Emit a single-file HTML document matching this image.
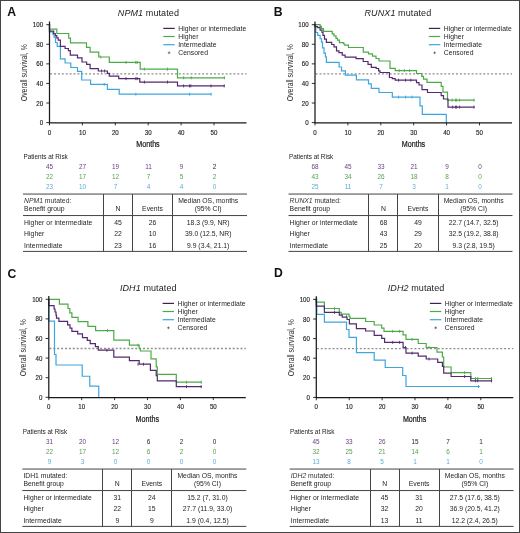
<!DOCTYPE html><html><head><meta charset="utf-8"><style>html,body{margin:0;padding:0;background:#fff;overflow:hidden}svg{display:block;will-change:transform}text{font-family:"Liberation Sans",sans-serif}</style></head><body>
<svg width="520" height="533" viewBox="0 0 520 533">
<rect x="0" y="0" width="520" height="533" fill="#fff"/>
<text x="7.20" y="15.80" font-size="12.2" text-anchor="start" fill="#111" font-weight="bold">A</text>
<text x="117.80" y="16.20" font-size="9" letter-spacing="0.1" fill="#222"><tspan font-style="italic">NPM1</tspan> mutated</text>
<line x1="163.30" y1="28.40" x2="174.70" y2="28.40" stroke="#3e2250" stroke-width="1.2"/>
<line x1="163.30" y1="36.50" x2="174.70" y2="36.50" stroke="#4daa47" stroke-width="1.2"/>
<line x1="163.30" y1="44.70" x2="174.70" y2="44.70" stroke="#3ea6dd" stroke-width="1.2"/>
<path d="M167.80 52.80H170.40M169.10 51.50V54.10" stroke="#444" stroke-width="0.7"/>
<text x="178.20" y="30.70" font-size="6.8" text-anchor="start" fill="#252525" letter-spacing="0.04">Higher or intermediate</text>
<text x="178.20" y="39.30" font-size="6.8" text-anchor="start" fill="#252525" letter-spacing="0.04">Higher</text>
<text x="178.20" y="47.10" font-size="6.8" text-anchor="start" fill="#252525" letter-spacing="0.04">Intermediate</text>
<text x="178.20" y="55.30" font-size="6.8" text-anchor="start" fill="#252525" letter-spacing="0.04">Censored</text>
<line x1="50.10" y1="73.85" x2="246.50" y2="73.85" stroke="#8e8e8e" stroke-width="1.3" stroke-dasharray="2 1.9"/>
<path d="M49.5 24.7V32H52.9V34.5H54V37.2H55.5V42.5H57.2V46.4H60.4V58.9H65.1V63H70.8V67.5H77.5V71.3H81.7V80H90.6V84.4H107.4V89.4H119.2V94.2H211" fill="none" stroke="#3ea6dd" stroke-width="1.2" stroke-linejoin="miter" stroke-linecap="square"/>
<path d="M104.20 82.90V85.90M135.80 92.70V95.70M189.60 92.70V95.70M211.00 92.70V95.70" stroke="#3ea6dd" stroke-width="0.9" fill="none"/>
<path d="M49.5 24.7V29.1H56.8V33.5H68.7V38.2H70.5V42.8H86.5V47.4H90.1V52.2H98.75V57H109.3V62.4H140.2V69.1H177.5V77.8H224.4" fill="none" stroke="#4daa47" stroke-width="1.2" stroke-linejoin="miter" stroke-linecap="square"/>
<path d="M100.70 55.50V58.50M126.00 60.90V63.90M135.80 60.90V63.90M137.20 60.90V63.90M144.40 67.60V70.60M167.50 67.60V70.60M183.60 76.30V79.30M191.30 76.30V79.30M224.40 76.30V79.30" stroke="#4daa47" stroke-width="0.9" fill="none"/>
<path d="M49.5 24.7V31.2H53.7V33.5H55.3V35.6H56.8V37.9H58.2V40.1H60.4V46.4H65.1V48.5H68.4V50.6H70.3V55.1H77.5V57.8H82V62H86.6V64.3H90.1V68.6H98.3V71H107.4V73.4H109.3V76.2H118.7V78.65H139.8V82.1H177.5V85.9H224.2" fill="none" stroke="#532a70" stroke-width="1.2" stroke-linejoin="miter" stroke-linecap="square"/>
<path d="M101.50 69.50V72.50M104.60 69.50V72.50M126.00 77.15V80.15M135.80 77.15V80.15M137.20 77.15V80.15M144.40 80.60V83.60M167.50 80.60V83.60M183.60 84.40V87.40M189.60 84.40V87.40M190.80 84.40V87.40M211.00 84.40V87.40M224.20 84.40V87.40" stroke="#532a70" stroke-width="0.9" fill="none"/>
<path d="M49.50 21.50V122.80H246.50" fill="none" stroke="#1a1a1a" stroke-width="1.25"/>
<path d="M46.30 122.60H49.50M46.30 103.02H49.50M46.30 83.44H49.50M46.30 63.86H49.50M46.30 44.28H49.50M46.30 24.70H49.50M49.50 122.60V125.40M82.40 122.60V125.40M115.30 122.60V125.40M148.20 122.60V125.40M181.10 122.60V125.40M214.00 122.60V125.40" stroke="#1a1a1a" stroke-width="0.9"/>
<text transform="translate(43.10 125.10) scale(0.88 1)" font-size="7" text-anchor="end" fill="#1e1e1e" stroke="#1e1e1e" stroke-width="0.15">0</text>
<text transform="translate(43.10 105.52) scale(0.88 1)" font-size="7" text-anchor="end" fill="#1e1e1e" stroke="#1e1e1e" stroke-width="0.15">20</text>
<text transform="translate(43.10 85.94) scale(0.88 1)" font-size="7" text-anchor="end" fill="#1e1e1e" stroke="#1e1e1e" stroke-width="0.15">40</text>
<text transform="translate(43.10 66.36) scale(0.88 1)" font-size="7" text-anchor="end" fill="#1e1e1e" stroke="#1e1e1e" stroke-width="0.15">60</text>
<text transform="translate(43.10 46.78) scale(0.88 1)" font-size="7" text-anchor="end" fill="#1e1e1e" stroke="#1e1e1e" stroke-width="0.15">80</text>
<text transform="translate(43.10 27.20) scale(0.88 1)" font-size="7" text-anchor="end" fill="#1e1e1e" stroke="#1e1e1e" stroke-width="0.15">100</text>
<text transform="translate(49.50 134.60) scale(0.88 1)" font-size="7" text-anchor="middle" fill="#1e1e1e" stroke="#1e1e1e" stroke-width="0.15">0</text>
<text transform="translate(82.40 134.60) scale(0.88 1)" font-size="7" text-anchor="middle" fill="#1e1e1e" stroke="#1e1e1e" stroke-width="0.15">10</text>
<text transform="translate(115.30 134.60) scale(0.88 1)" font-size="7" text-anchor="middle" fill="#1e1e1e" stroke="#1e1e1e" stroke-width="0.15">20</text>
<text transform="translate(148.20 134.60) scale(0.88 1)" font-size="7" text-anchor="middle" fill="#1e1e1e" stroke="#1e1e1e" stroke-width="0.15">30</text>
<text transform="translate(181.10 134.60) scale(0.88 1)" font-size="7" text-anchor="middle" fill="#1e1e1e" stroke="#1e1e1e" stroke-width="0.15">40</text>
<text transform="translate(214.00 134.60) scale(0.88 1)" font-size="7" text-anchor="middle" fill="#1e1e1e" stroke="#1e1e1e" stroke-width="0.15">50</text>
<text transform="translate(148.00 146.90) scale(0.86 1)" font-size="8.3" text-anchor="middle" fill="#1a1a1a" stroke="#1a1a1a" stroke-width="0.22">Months</text>
<text transform="translate(27.00 72.70) rotate(-90) scale(0.765 1)" font-size="9" text-anchor="middle" fill="#2a2a2a">Overall survival, %</text>
<text x="23.40" y="158.70" font-size="6.4" text-anchor="start" fill="#222" >Patients at Risk</text>
<text x="49.50" y="168.80" font-size="6.4" text-anchor="middle" fill="#663d86" >45</text>
<text x="82.50" y="168.80" font-size="6.4" text-anchor="middle" fill="#663d86" >27</text>
<text x="115.50" y="168.80" font-size="6.4" text-anchor="middle" fill="#663d86" >19</text>
<text x="148.50" y="168.80" font-size="6.4" text-anchor="middle" fill="#663d86" >11</text>
<text x="181.50" y="168.80" font-size="6.4" text-anchor="middle" fill="#663d86" >9</text>
<text x="214.50" y="168.80" font-size="6.4" text-anchor="middle" fill="#252525" >2</text>
<text x="49.50" y="178.90" font-size="6.4" text-anchor="middle" fill="#5aa052" >22</text>
<text x="82.50" y="178.90" font-size="6.4" text-anchor="middle" fill="#5aa052" >17</text>
<text x="115.50" y="178.90" font-size="6.4" text-anchor="middle" fill="#5aa052" >12</text>
<text x="148.50" y="178.90" font-size="6.4" text-anchor="middle" fill="#5aa052" >7</text>
<text x="181.50" y="178.90" font-size="6.4" text-anchor="middle" fill="#5aa052" >5</text>
<text x="214.50" y="178.90" font-size="6.4" text-anchor="middle" fill="#5aa052" >2</text>
<text x="49.50" y="189.00" font-size="6.4" text-anchor="middle" fill="#5aaedc" >23</text>
<text x="82.50" y="189.00" font-size="6.4" text-anchor="middle" fill="#5aaedc" >10</text>
<text x="115.50" y="189.00" font-size="6.4" text-anchor="middle" fill="#5aaedc" >7</text>
<text x="148.50" y="189.00" font-size="6.4" text-anchor="middle" fill="#5aaedc" >4</text>
<text x="181.50" y="189.00" font-size="6.4" text-anchor="middle" fill="#5aaedc" >4</text>
<text x="214.50" y="189.00" font-size="6.4" text-anchor="middle" fill="#5aaedc" >0</text>
<path d="M23.00 194.05H247.00M23.00 215.55H247.00M23.00 251.40H247.00" stroke="#444" stroke-width="1"/>
<path d="M103.50 194.05V251.40M132.50 194.05V251.40M172.50 194.05V251.40" stroke="#444" stroke-width="1"/>
<text x="24.10" y="203.30" font-size="6.8" fill="#333"><tspan font-style="italic">NPM1</tspan> mutated:</text>
<text x="24.10" y="211.00" font-size="6.8" text-anchor="start" fill="#252525" >Benefit group</text>
<text x="118.00" y="211.00" font-size="6.8" text-anchor="middle" fill="#252525" >N</text>
<text x="152.50" y="211.00" font-size="6.8" text-anchor="middle" fill="#252525" >Events</text>
<text x="208.20" y="203.00" font-size="6.8" text-anchor="middle" fill="#252525" >Median OS, months</text>
<text x="208.20" y="211.40" font-size="6.8" text-anchor="middle" fill="#252525" >(95% CI)</text>
<text x="24.10" y="224.50" font-size="6.8" text-anchor="start" fill="#252525" letter-spacing="0.05">Higher or intermediate</text>
<text x="118.00" y="224.50" font-size="6.8" text-anchor="middle" fill="#252525" >45</text>
<text x="152.50" y="224.50" font-size="6.8" text-anchor="middle" fill="#252525" >26</text>
<text x="208.20" y="224.50" font-size="6.8" text-anchor="middle" fill="#252525" >18.3 (9.9, NR)</text>
<text x="24.10" y="236.10" font-size="6.8" text-anchor="start" fill="#252525" letter-spacing="0.05">Higher</text>
<text x="118.00" y="236.10" font-size="6.8" text-anchor="middle" fill="#252525" >22</text>
<text x="152.50" y="236.10" font-size="6.8" text-anchor="middle" fill="#252525" >10</text>
<text x="208.20" y="236.10" font-size="6.8" text-anchor="middle" fill="#252525" >39.0 (12.5, NR)</text>
<text x="24.10" y="247.60" font-size="6.8" text-anchor="start" fill="#252525" letter-spacing="0.05">Intermediate</text>
<text x="118.00" y="247.60" font-size="6.8" text-anchor="middle" fill="#252525" >23</text>
<text x="152.50" y="247.60" font-size="6.8" text-anchor="middle" fill="#252525" >16</text>
<text x="208.20" y="247.60" font-size="6.8" text-anchor="middle" fill="#252525" >9.9 (3.4, 21.1)</text>
<text x="273.80" y="15.50" font-size="12.2" text-anchor="start" fill="#111" font-weight="bold">B</text>
<text x="364.50" y="16.20" font-size="9" letter-spacing="0.1" fill="#222"><tspan font-style="italic">RUNX1</tspan> mutated</text>
<line x1="428.80" y1="28.40" x2="440.20" y2="28.40" stroke="#3e2250" stroke-width="1.2"/>
<line x1="428.80" y1="36.50" x2="440.20" y2="36.50" stroke="#4daa47" stroke-width="1.2"/>
<line x1="428.80" y1="44.70" x2="440.20" y2="44.70" stroke="#3ea6dd" stroke-width="1.2"/>
<path d="M433.30 52.80H435.90M434.60 51.50V54.10" stroke="#444" stroke-width="0.7"/>
<text x="443.70" y="30.70" font-size="6.8" text-anchor="start" fill="#252525" letter-spacing="0.04">Higher or intermediate</text>
<text x="443.70" y="39.30" font-size="6.8" text-anchor="start" fill="#252525" letter-spacing="0.04">Higher</text>
<text x="443.70" y="47.10" font-size="6.8" text-anchor="start" fill="#252525" letter-spacing="0.04">Intermediate</text>
<text x="443.70" y="55.30" font-size="6.8" text-anchor="start" fill="#252525" letter-spacing="0.04">Censored</text>
<line x1="315.60" y1="73.85" x2="512.00" y2="73.85" stroke="#8e8e8e" stroke-width="1.3" stroke-dasharray="2 1.9"/>
<path d="M315 24.7H315.8V32.5H317.7V35.4H320.1V38.75H321.5V42.1H322.5V47.9H324V53.2H325.4V57H326.4V62.3H339.1V67H341.5V70.9H345.4V75.2H356.4V79.8H368.5V83.8H371.3V88.3H379V92.5H392.3V97.1H420V105.8H422.3V114.4H446.3V122.6" fill="none" stroke="#3ea6dd" stroke-width="1.2" stroke-linejoin="miter" stroke-linecap="square"/>
<path d="M398.60 95.60V98.60M405.60 95.60V98.60M411.90 95.60V98.60" stroke="#3ea6dd" stroke-width="0.9" fill="none"/>
<path d="M315 24.7H320.1V26.3H321.5V28.7H323.5V31.3H332.2V33.9H334V35.9H336V38.3H337.5V40.2H339.4V42.6H343.7V44H344.7V45.2H348.5V47.5H363.3V52.1H368.5V53.8H372.5V56.2H376V58.5H379V61H390V68.3H395.2V70.6H416.5V73.5H421.7V76.3H423.5V79.2H427V82.3H441.2V86.3H443V92.1H447.5V100.2H474" fill="none" stroke="#4daa47" stroke-width="1.2" stroke-linejoin="miter" stroke-linecap="square"/>
<path d="M399.20 69.10V72.10M404.40 69.10V72.10M409.60 69.10V72.10M452.10 98.70V101.70M455.60 98.70V101.70M456.70 98.70V101.70M459.60 98.70V101.70M474.00 98.70V101.70" stroke="#4daa47" stroke-width="0.9" fill="none"/>
<path d="M315 24.7V26.7H317.7V27.7H320.1V30.1H322V32.5H323V35.4H324.5V39.2H326.4V42.3H331.7V44.5H334V46.9H336.5V50.8H338.9V52.7H342.25V55.1H345.1V57.1H356.1V58.6H363.2V61.5H368V64.4H371.3V67.3H376.2V68.5H378.6V70.9H380V72.5H389.4V77.5H392.3V78.65H395.2V80.2H416.5V82.7H419V85H422V89.6H427.5V92.5H441.2V95.6H443.5V99H448V107.1H474" fill="none" stroke="#532a70" stroke-width="1.2" stroke-linejoin="miter" stroke-linecap="square"/>
<path d="M398.60 78.70V81.70M405.60 78.70V81.70M410.80 78.70V81.70M452.70 105.60V108.60M455.60 105.60V108.60M456.70 105.60V108.60M459.60 105.60V108.60M474.00 105.60V108.60" stroke="#532a70" stroke-width="0.9" fill="none"/>
<path d="M315.00 21.50V122.80H512.00" fill="none" stroke="#1a1a1a" stroke-width="1.25"/>
<path d="M311.80 122.60H315.00M311.80 103.02H315.00M311.80 83.44H315.00M311.80 63.86H315.00M311.80 44.28H315.00M311.80 24.70H315.00M315.00 122.60V125.40M347.90 122.60V125.40M380.80 122.60V125.40M413.70 122.60V125.40M446.60 122.60V125.40M479.50 122.60V125.40" stroke="#1a1a1a" stroke-width="0.9"/>
<text transform="translate(308.60 125.10) scale(0.88 1)" font-size="7" text-anchor="end" fill="#1e1e1e" stroke="#1e1e1e" stroke-width="0.15">0</text>
<text transform="translate(308.60 105.52) scale(0.88 1)" font-size="7" text-anchor="end" fill="#1e1e1e" stroke="#1e1e1e" stroke-width="0.15">20</text>
<text transform="translate(308.60 85.94) scale(0.88 1)" font-size="7" text-anchor="end" fill="#1e1e1e" stroke="#1e1e1e" stroke-width="0.15">40</text>
<text transform="translate(308.60 66.36) scale(0.88 1)" font-size="7" text-anchor="end" fill="#1e1e1e" stroke="#1e1e1e" stroke-width="0.15">60</text>
<text transform="translate(308.60 46.78) scale(0.88 1)" font-size="7" text-anchor="end" fill="#1e1e1e" stroke="#1e1e1e" stroke-width="0.15">80</text>
<text transform="translate(308.60 27.20) scale(0.88 1)" font-size="7" text-anchor="end" fill="#1e1e1e" stroke="#1e1e1e" stroke-width="0.15">100</text>
<text transform="translate(315.00 134.60) scale(0.88 1)" font-size="7" text-anchor="middle" fill="#1e1e1e" stroke="#1e1e1e" stroke-width="0.15">0</text>
<text transform="translate(347.90 134.60) scale(0.88 1)" font-size="7" text-anchor="middle" fill="#1e1e1e" stroke="#1e1e1e" stroke-width="0.15">10</text>
<text transform="translate(380.80 134.60) scale(0.88 1)" font-size="7" text-anchor="middle" fill="#1e1e1e" stroke="#1e1e1e" stroke-width="0.15">20</text>
<text transform="translate(413.70 134.60) scale(0.88 1)" font-size="7" text-anchor="middle" fill="#1e1e1e" stroke="#1e1e1e" stroke-width="0.15">30</text>
<text transform="translate(446.60 134.60) scale(0.88 1)" font-size="7" text-anchor="middle" fill="#1e1e1e" stroke="#1e1e1e" stroke-width="0.15">40</text>
<text transform="translate(479.50 134.60) scale(0.88 1)" font-size="7" text-anchor="middle" fill="#1e1e1e" stroke="#1e1e1e" stroke-width="0.15">50</text>
<text transform="translate(413.50 146.90) scale(0.86 1)" font-size="8.3" text-anchor="middle" fill="#1a1a1a" stroke="#1a1a1a" stroke-width="0.22">Months</text>
<text transform="translate(292.50 72.70) rotate(-90) scale(0.765 1)" font-size="9" text-anchor="middle" fill="#2a2a2a">Overall survival, %</text>
<text x="288.90" y="158.70" font-size="6.4" text-anchor="start" fill="#222" >Patients at Risk</text>
<text x="315.00" y="168.80" font-size="6.4" text-anchor="middle" fill="#663d86" >68</text>
<text x="348.00" y="168.80" font-size="6.4" text-anchor="middle" fill="#663d86" >45</text>
<text x="381.00" y="168.80" font-size="6.4" text-anchor="middle" fill="#663d86" >33</text>
<text x="414.00" y="168.80" font-size="6.4" text-anchor="middle" fill="#663d86" >21</text>
<text x="447.00" y="168.80" font-size="6.4" text-anchor="middle" fill="#663d86" >9</text>
<text x="480.00" y="168.80" font-size="6.4" text-anchor="middle" fill="#663d86" >0</text>
<text x="315.00" y="178.90" font-size="6.4" text-anchor="middle" fill="#5aa052" >43</text>
<text x="348.00" y="178.90" font-size="6.4" text-anchor="middle" fill="#5aa052" >34</text>
<text x="381.00" y="178.90" font-size="6.4" text-anchor="middle" fill="#5aa052" >26</text>
<text x="414.00" y="178.90" font-size="6.4" text-anchor="middle" fill="#5aa052" >18</text>
<text x="447.00" y="178.90" font-size="6.4" text-anchor="middle" fill="#5aa052" >8</text>
<text x="480.00" y="178.90" font-size="6.4" text-anchor="middle" fill="#5aa052" >0</text>
<text x="315.00" y="189.00" font-size="6.4" text-anchor="middle" fill="#5aaedc" >25</text>
<text x="348.00" y="189.00" font-size="6.4" text-anchor="middle" fill="#5aaedc" >11</text>
<text x="381.00" y="189.00" font-size="6.4" text-anchor="middle" fill="#5aaedc" >7</text>
<text x="414.00" y="189.00" font-size="6.4" text-anchor="middle" fill="#5aaedc" >3</text>
<text x="447.00" y="189.00" font-size="6.4" text-anchor="middle" fill="#5aaedc" >1</text>
<text x="480.00" y="189.00" font-size="6.4" text-anchor="middle" fill="#5aaedc" >0</text>
<path d="M288.50 194.05H512.50M288.50 215.55H512.50M288.50 251.40H512.50" stroke="#444" stroke-width="1"/>
<path d="M368.50 194.05V251.40M397.50 194.05V251.40M438.50 194.05V251.40" stroke="#444" stroke-width="1"/>
<text x="289.60" y="203.30" font-size="6.8" fill="#333"><tspan font-style="italic">RUNX1</tspan> mutated:</text>
<text x="289.60" y="211.00" font-size="6.8" text-anchor="start" fill="#252525" >Benefit group</text>
<text x="383.50" y="211.00" font-size="6.8" text-anchor="middle" fill="#252525" >N</text>
<text x="418.00" y="211.00" font-size="6.8" text-anchor="middle" fill="#252525" >Events</text>
<text x="473.70" y="203.00" font-size="6.8" text-anchor="middle" fill="#252525" >Median OS, months</text>
<text x="473.70" y="211.40" font-size="6.8" text-anchor="middle" fill="#252525" >(95% CI)</text>
<text x="289.60" y="224.50" font-size="6.8" text-anchor="start" fill="#252525" letter-spacing="0.05">Higher or intermediate</text>
<text x="383.50" y="224.50" font-size="6.8" text-anchor="middle" fill="#252525" >68</text>
<text x="418.00" y="224.50" font-size="6.8" text-anchor="middle" fill="#252525" >49</text>
<text x="473.70" y="224.50" font-size="6.8" text-anchor="middle" fill="#252525" >22.7 (14.7, 32.5)</text>
<text x="289.60" y="236.10" font-size="6.8" text-anchor="start" fill="#252525" letter-spacing="0.05">Higher</text>
<text x="383.50" y="236.10" font-size="6.8" text-anchor="middle" fill="#252525" >43</text>
<text x="418.00" y="236.10" font-size="6.8" text-anchor="middle" fill="#252525" >29</text>
<text x="473.70" y="236.10" font-size="6.8" text-anchor="middle" fill="#252525" >32.5 (19.2, 38.8)</text>
<text x="289.60" y="247.60" font-size="6.8" text-anchor="start" fill="#252525" letter-spacing="0.05">Intermediate</text>
<text x="383.50" y="247.60" font-size="6.8" text-anchor="middle" fill="#252525" >25</text>
<text x="418.00" y="247.60" font-size="6.8" text-anchor="middle" fill="#252525" >20</text>
<text x="473.70" y="247.60" font-size="6.8" text-anchor="middle" fill="#252525" >9.3 (2.8, 19.5)</text>
<text x="7.40" y="277.50" font-size="12.2" text-anchor="start" fill="#111" font-weight="bold">C</text>
<text x="119.90" y="291.20" font-size="9" letter-spacing="0.1" fill="#222"><tspan font-style="italic">IDH1</tspan> mutated</text>
<line x1="162.60" y1="303.40" x2="174.00" y2="303.40" stroke="#3e2250" stroke-width="1.2"/>
<line x1="162.60" y1="311.50" x2="174.00" y2="311.50" stroke="#4daa47" stroke-width="1.2"/>
<line x1="162.60" y1="319.70" x2="174.00" y2="319.70" stroke="#3ea6dd" stroke-width="1.2"/>
<path d="M167.10 327.80H169.70M168.40 326.50V329.10" stroke="#444" stroke-width="0.7"/>
<text x="177.50" y="305.70" font-size="6.8" text-anchor="start" fill="#252525" letter-spacing="0.04">Higher or intermediate</text>
<text x="177.50" y="314.30" font-size="6.8" text-anchor="start" fill="#252525" letter-spacing="0.04">Higher</text>
<text x="177.50" y="322.10" font-size="6.8" text-anchor="start" fill="#252525" letter-spacing="0.04">Intermediate</text>
<text x="177.50" y="330.30" font-size="6.8" text-anchor="start" fill="#252525" letter-spacing="0.04">Censored</text>
<line x1="49.40" y1="348.50" x2="245.80" y2="348.50" stroke="#8e8e8e" stroke-width="1.3" stroke-dasharray="2 1.9"/>
<path d="M48.8 299.3V321.2H54.5V354.5H56V365H82.25V376.25H89.75V386.2H98.75V397.3" fill="none" stroke="#3ea6dd" stroke-width="1.2" stroke-linejoin="miter" stroke-linecap="square"/>
<path d="M48.8 299.3H59.4V304.1H68V308.5H69.8V312.8H71.9V317.3H78.1V321.6H87.9V326.3H95.6V330.6H113.8V340.2H129.4V345.2H139.2V348.5H140.4V351H151V358.8H156.2V366.9H157.3V374.4H176.3V382.2H201.2" fill="none" stroke="#4daa47" stroke-width="1.2" stroke-linejoin="miter" stroke-linecap="square"/>
<path d="M107.50 329.10V332.10M138.00 343.70V346.70M186.50 380.70V383.70M201.20 380.70V383.70" stroke="#4daa47" stroke-width="0.9" fill="none"/>
<path d="M48.8 299.3V305.6H54.1V309H55V312H56V315.2H56.5V318.1H58.9V321.4H67.6V324.8H70V328.2H71.9V331.3H77.7V333.9H82.5V337.6H87.3V340.4H90.2V343.6H95.4V346.7H98.3V350.2H113.8V357.1H129.4V360.6H139.2V364.2H150.4V370.4H156.2V375.6H157.3V380.8H176.3V386.7H201.2" fill="none" stroke="#532a70" stroke-width="1.2" stroke-linejoin="miter" stroke-linecap="square"/>
<path d="M106.90 348.70V351.70M138.00 362.70V365.70M143.50 362.70V365.70M186.50 385.20V388.20M201.20 385.20V388.20" stroke="#532a70" stroke-width="0.9" fill="none"/>
<path d="M48.80 296.10V397.50H245.80" fill="none" stroke="#1a1a1a" stroke-width="1.25"/>
<path d="M45.60 397.30H48.80M45.60 377.70H48.80M45.60 358.10H48.80M45.60 338.50H48.80M45.60 318.90H48.80M45.60 299.30H48.80M48.80 397.30V400.10M81.70 397.30V400.10M114.60 397.30V400.10M147.50 397.30V400.10M180.40 397.30V400.10M213.30 397.30V400.10" stroke="#1a1a1a" stroke-width="0.9"/>
<text transform="translate(42.40 399.80) scale(0.88 1)" font-size="7" text-anchor="end" fill="#1e1e1e" stroke="#1e1e1e" stroke-width="0.15">0</text>
<text transform="translate(42.40 380.20) scale(0.88 1)" font-size="7" text-anchor="end" fill="#1e1e1e" stroke="#1e1e1e" stroke-width="0.15">20</text>
<text transform="translate(42.40 360.60) scale(0.88 1)" font-size="7" text-anchor="end" fill="#1e1e1e" stroke="#1e1e1e" stroke-width="0.15">40</text>
<text transform="translate(42.40 341.00) scale(0.88 1)" font-size="7" text-anchor="end" fill="#1e1e1e" stroke="#1e1e1e" stroke-width="0.15">60</text>
<text transform="translate(42.40 321.40) scale(0.88 1)" font-size="7" text-anchor="end" fill="#1e1e1e" stroke="#1e1e1e" stroke-width="0.15">80</text>
<text transform="translate(42.40 301.80) scale(0.88 1)" font-size="7" text-anchor="end" fill="#1e1e1e" stroke="#1e1e1e" stroke-width="0.15">100</text>
<text transform="translate(48.80 409.30) scale(0.88 1)" font-size="7" text-anchor="middle" fill="#1e1e1e" stroke="#1e1e1e" stroke-width="0.15">0</text>
<text transform="translate(81.70 409.30) scale(0.88 1)" font-size="7" text-anchor="middle" fill="#1e1e1e" stroke="#1e1e1e" stroke-width="0.15">10</text>
<text transform="translate(114.60 409.30) scale(0.88 1)" font-size="7" text-anchor="middle" fill="#1e1e1e" stroke="#1e1e1e" stroke-width="0.15">20</text>
<text transform="translate(147.50 409.30) scale(0.88 1)" font-size="7" text-anchor="middle" fill="#1e1e1e" stroke="#1e1e1e" stroke-width="0.15">30</text>
<text transform="translate(180.40 409.30) scale(0.88 1)" font-size="7" text-anchor="middle" fill="#1e1e1e" stroke="#1e1e1e" stroke-width="0.15">40</text>
<text transform="translate(213.30 409.30) scale(0.88 1)" font-size="7" text-anchor="middle" fill="#1e1e1e" stroke="#1e1e1e" stroke-width="0.15">50</text>
<text transform="translate(147.30 421.90) scale(0.86 1)" font-size="8.3" text-anchor="middle" fill="#1a1a1a" stroke="#1a1a1a" stroke-width="0.22">Months</text>
<text transform="translate(26.30 347.70) rotate(-90) scale(0.765 1)" font-size="9" text-anchor="middle" fill="#2a2a2a">Overall survival, %</text>
<text x="22.70" y="433.70" font-size="6.4" text-anchor="start" fill="#222" >Patients at Risk</text>
<text x="49.50" y="443.80" font-size="6.4" text-anchor="middle" fill="#663d86" >31</text>
<text x="82.50" y="443.80" font-size="6.4" text-anchor="middle" fill="#663d86" >20</text>
<text x="115.50" y="443.80" font-size="6.4" text-anchor="middle" fill="#663d86" >12</text>
<text x="148.50" y="443.80" font-size="6.4" text-anchor="middle" fill="#252525" >6</text>
<text x="181.50" y="443.80" font-size="6.4" text-anchor="middle" fill="#252525" >2</text>
<text x="214.50" y="443.80" font-size="6.4" text-anchor="middle" fill="#252525" >0</text>
<text x="49.50" y="453.90" font-size="6.4" text-anchor="middle" fill="#5aa052" >22</text>
<text x="82.50" y="453.90" font-size="6.4" text-anchor="middle" fill="#5aa052" >17</text>
<text x="115.50" y="453.90" font-size="6.4" text-anchor="middle" fill="#5aa052" >12</text>
<text x="148.50" y="453.90" font-size="6.4" text-anchor="middle" fill="#5aa052" >6</text>
<text x="181.50" y="453.90" font-size="6.4" text-anchor="middle" fill="#5aa052" >2</text>
<text x="214.50" y="453.90" font-size="6.4" text-anchor="middle" fill="#5aa052" >0</text>
<text x="49.50" y="464.00" font-size="6.4" text-anchor="middle" fill="#5aaedc" >9</text>
<text x="82.50" y="464.00" font-size="6.4" text-anchor="middle" fill="#5aaedc" >3</text>
<text x="115.50" y="464.00" font-size="6.4" text-anchor="middle" fill="#5aaedc" >0</text>
<text x="148.50" y="464.00" font-size="6.4" text-anchor="middle" fill="#5aaedc" >0</text>
<text x="181.50" y="464.00" font-size="6.4" text-anchor="middle" fill="#5aaedc" >0</text>
<text x="214.50" y="464.00" font-size="6.4" text-anchor="middle" fill="#5aaedc" >0</text>
<path d="M22.30 469.05H246.30M22.30 490.55H246.30M22.30 526.40H246.30" stroke="#444" stroke-width="1"/>
<path d="M102.50 469.05V526.40M131.50 469.05V526.40M171.50 469.05V526.40" stroke="#444" stroke-width="1"/>
<text x="23.40" y="478.30" font-size="6.8" text-anchor="start" fill="#252525" >IDH1 mutated:</text>
<text x="23.40" y="486.00" font-size="6.8" text-anchor="start" fill="#252525" >Benefit group</text>
<text x="117.30" y="486.00" font-size="6.8" text-anchor="middle" fill="#252525" >N</text>
<text x="151.80" y="486.00" font-size="6.8" text-anchor="middle" fill="#252525" >Events</text>
<text x="207.50" y="478.00" font-size="6.8" text-anchor="middle" fill="#252525" >Median OS, months</text>
<text x="207.50" y="486.40" font-size="6.8" text-anchor="middle" fill="#252525" >(95% CI)</text>
<text x="23.40" y="499.50" font-size="6.8" text-anchor="start" fill="#252525" letter-spacing="0.05">Higher or intermediate</text>
<text x="117.30" y="499.50" font-size="6.8" text-anchor="middle" fill="#252525" >31</text>
<text x="151.80" y="499.50" font-size="6.8" text-anchor="middle" fill="#252525" >24</text>
<text x="207.50" y="499.50" font-size="6.8" text-anchor="middle" fill="#252525" >15.2 (7, 31.0)</text>
<text x="23.40" y="511.10" font-size="6.8" text-anchor="start" fill="#252525" letter-spacing="0.05">Higher</text>
<text x="117.30" y="511.10" font-size="6.8" text-anchor="middle" fill="#252525" >22</text>
<text x="151.80" y="511.10" font-size="6.8" text-anchor="middle" fill="#252525" >15</text>
<text x="207.50" y="511.10" font-size="6.8" text-anchor="middle" fill="#252525" >27.7 (11.9, 33.0)</text>
<text x="23.40" y="522.60" font-size="6.8" text-anchor="start" fill="#252525" letter-spacing="0.05">Intermediate</text>
<text x="117.30" y="522.60" font-size="6.8" text-anchor="middle" fill="#252525" >9</text>
<text x="151.80" y="522.60" font-size="6.8" text-anchor="middle" fill="#252525" >9</text>
<text x="207.50" y="522.60" font-size="6.8" text-anchor="middle" fill="#252525" >1.9 (0.4, 12.5)</text>
<text x="274.10" y="277.00" font-size="12.2" text-anchor="start" fill="#111" font-weight="bold">D</text>
<text x="387.70" y="291.20" font-size="9" letter-spacing="0.1" fill="#222"><tspan font-style="italic">IDH2</tspan> mutated</text>
<line x1="429.90" y1="303.40" x2="441.30" y2="303.40" stroke="#3e2250" stroke-width="1.2"/>
<line x1="429.90" y1="311.50" x2="441.30" y2="311.50" stroke="#4daa47" stroke-width="1.2"/>
<line x1="429.90" y1="319.70" x2="441.30" y2="319.70" stroke="#3ea6dd" stroke-width="1.2"/>
<path d="M434.40 327.80H437.00M435.70 326.50V329.10" stroke="#444" stroke-width="0.7"/>
<text x="444.80" y="305.70" font-size="6.8" text-anchor="start" fill="#252525" letter-spacing="0.04">Higher or intermediate</text>
<text x="444.80" y="314.30" font-size="6.8" text-anchor="start" fill="#252525" letter-spacing="0.04">Higher</text>
<text x="444.80" y="322.10" font-size="6.8" text-anchor="start" fill="#252525" letter-spacing="0.04">Intermediate</text>
<text x="444.80" y="330.30" font-size="6.8" text-anchor="start" fill="#252525" letter-spacing="0.04">Censored</text>
<line x1="316.90" y1="348.60" x2="513.30" y2="348.60" stroke="#8e8e8e" stroke-width="1.3" stroke-dasharray="2 1.9"/>
<path d="M316.3 299.4H316.8V314.4H324.4V322.2H346.5V329.5H349V337.3H356.4V352.6H374.2V360.2H385.2V367.5H402.7V375.5H406V386.5H479.2" fill="none" stroke="#3ea6dd" stroke-width="1.2" stroke-linejoin="miter" stroke-linecap="square"/>
<path d="M478.50 385.00V388.00" stroke="#3ea6dd" stroke-width="0.9" fill="none"/>
<path d="M316.3 299.4V302.2H324.4V308.5H339.3V312.3H341.2V314.2H349V316.2H349.9V318.4H365.6V321.5H374.2V325H381.7V328.2H384V331.3H403.1V334.8H406V339.4H418.2V343.5H426.2V347.5H437V352.2H442.4V357H443.7V367H451.1V372.6H470.8V378.5H491.5" fill="none" stroke="#4daa47" stroke-width="1.2" stroke-linejoin="miter" stroke-linecap="square"/>
<path d="M334.50 307.00V310.00M346.50 314.70V317.70M392.70 329.80V332.80M399.60 329.80V332.80M412.10 337.90V340.90M429.00 346.00V349.00M464.60 371.10V374.10M475.40 377.00V380.00M477.70 377.00V380.00M491.50 377.00V380.00" stroke="#4daa47" stroke-width="0.9" fill="none"/>
<path d="M316.3 299.4V306.1H324.4V312.3H339.3V315.2H342.2V317.1H347V319.5H349.4V323.8H356.4V328.6H365.6V331H374.2V335.4H381.7V338.3H384.6V342.3H403.1V347.5H406V353.1H418.2V356.2H426.2V359H437.7V362.3H442.4V366.3H443.7V373.1H451.1V376.5H470.8V380.8H491.5" fill="none" stroke="#532a70" stroke-width="1.2" stroke-linejoin="miter" stroke-linecap="square"/>
<path d="M334.50 310.80V313.80M392.70 340.80V343.80M399.60 340.80V343.80M405.40 346.00V349.00M412.10 351.60V354.60M429.00 357.50V360.50M464.60 375.00V378.00M475.40 379.30V382.30M477.70 379.30V382.30M491.50 379.30V382.30" stroke="#532a70" stroke-width="0.9" fill="none"/>
<path d="M316.30 296.20V397.60H513.30" fill="none" stroke="#1a1a1a" stroke-width="1.25"/>
<path d="M313.10 397.40H316.30M313.10 377.80H316.30M313.10 358.20H316.30M313.10 338.60H316.30M313.10 319.00H316.30M313.10 299.40H316.30M316.30 397.40V400.20M349.20 397.40V400.20M382.10 397.40V400.20M415.00 397.40V400.20M447.90 397.40V400.20M480.80 397.40V400.20" stroke="#1a1a1a" stroke-width="0.9"/>
<text transform="translate(309.90 399.90) scale(0.88 1)" font-size="7" text-anchor="end" fill="#1e1e1e" stroke="#1e1e1e" stroke-width="0.15">0</text>
<text transform="translate(309.90 380.30) scale(0.88 1)" font-size="7" text-anchor="end" fill="#1e1e1e" stroke="#1e1e1e" stroke-width="0.15">20</text>
<text transform="translate(309.90 360.70) scale(0.88 1)" font-size="7" text-anchor="end" fill="#1e1e1e" stroke="#1e1e1e" stroke-width="0.15">40</text>
<text transform="translate(309.90 341.10) scale(0.88 1)" font-size="7" text-anchor="end" fill="#1e1e1e" stroke="#1e1e1e" stroke-width="0.15">60</text>
<text transform="translate(309.90 321.50) scale(0.88 1)" font-size="7" text-anchor="end" fill="#1e1e1e" stroke="#1e1e1e" stroke-width="0.15">80</text>
<text transform="translate(309.90 301.90) scale(0.88 1)" font-size="7" text-anchor="end" fill="#1e1e1e" stroke="#1e1e1e" stroke-width="0.15">100</text>
<text transform="translate(316.30 409.40) scale(0.88 1)" font-size="7" text-anchor="middle" fill="#1e1e1e" stroke="#1e1e1e" stroke-width="0.15">0</text>
<text transform="translate(349.20 409.40) scale(0.88 1)" font-size="7" text-anchor="middle" fill="#1e1e1e" stroke="#1e1e1e" stroke-width="0.15">10</text>
<text transform="translate(382.10 409.40) scale(0.88 1)" font-size="7" text-anchor="middle" fill="#1e1e1e" stroke="#1e1e1e" stroke-width="0.15">20</text>
<text transform="translate(415.00 409.40) scale(0.88 1)" font-size="7" text-anchor="middle" fill="#1e1e1e" stroke="#1e1e1e" stroke-width="0.15">30</text>
<text transform="translate(447.90 409.40) scale(0.88 1)" font-size="7" text-anchor="middle" fill="#1e1e1e" stroke="#1e1e1e" stroke-width="0.15">40</text>
<text transform="translate(480.80 409.40) scale(0.88 1)" font-size="7" text-anchor="middle" fill="#1e1e1e" stroke="#1e1e1e" stroke-width="0.15">50</text>
<text transform="translate(414.60 421.90) scale(0.86 1)" font-size="8.3" text-anchor="middle" fill="#1a1a1a" stroke="#1a1a1a" stroke-width="0.22">Months</text>
<text transform="translate(293.60 347.70) rotate(-90) scale(0.765 1)" font-size="9" text-anchor="middle" fill="#2a2a2a">Overall survival, %</text>
<text x="290.00" y="433.70" font-size="6.4" text-anchor="start" fill="#222" >Patients at Risk</text>
<text x="316.10" y="443.80" font-size="6.4" text-anchor="middle" fill="#663d86" >45</text>
<text x="349.10" y="443.80" font-size="6.4" text-anchor="middle" fill="#663d86" >33</text>
<text x="382.10" y="443.80" font-size="6.4" text-anchor="middle" fill="#663d86" >26</text>
<text x="415.10" y="443.80" font-size="6.4" text-anchor="middle" fill="#252525" >15</text>
<text x="448.10" y="443.80" font-size="6.4" text-anchor="middle" fill="#252525" >7</text>
<text x="481.10" y="443.80" font-size="6.4" text-anchor="middle" fill="#252525" >1</text>
<text x="316.10" y="453.90" font-size="6.4" text-anchor="middle" fill="#5aa052" >32</text>
<text x="349.10" y="453.90" font-size="6.4" text-anchor="middle" fill="#5aa052" >25</text>
<text x="382.10" y="453.90" font-size="6.4" text-anchor="middle" fill="#5aa052" >21</text>
<text x="415.10" y="453.90" font-size="6.4" text-anchor="middle" fill="#5aa052" >14</text>
<text x="448.10" y="453.90" font-size="6.4" text-anchor="middle" fill="#5aa052" >6</text>
<text x="481.10" y="453.90" font-size="6.4" text-anchor="middle" fill="#5aa052" >1</text>
<text x="316.10" y="464.00" font-size="6.4" text-anchor="middle" fill="#5aaedc" >13</text>
<text x="349.10" y="464.00" font-size="6.4" text-anchor="middle" fill="#5aaedc" >8</text>
<text x="382.10" y="464.00" font-size="6.4" text-anchor="middle" fill="#5aaedc" >5</text>
<text x="415.10" y="464.00" font-size="6.4" text-anchor="middle" fill="#5aaedc" >1</text>
<text x="448.10" y="464.00" font-size="6.4" text-anchor="middle" fill="#5aaedc" >1</text>
<text x="481.10" y="464.00" font-size="6.4" text-anchor="middle" fill="#5aaedc" >0</text>
<path d="M289.60 469.05H513.60M289.60 490.55H513.60M289.60 526.40H513.60" stroke="#444" stroke-width="1"/>
<path d="M370.50 469.05V526.40M399.50 469.05V526.40M439.50 469.05V526.40" stroke="#444" stroke-width="1"/>
<text x="290.70" y="478.30" font-size="6.8" fill="#333"><tspan font-style="italic">IDH2</tspan> mutated:</text>
<text x="290.70" y="486.00" font-size="6.8" text-anchor="start" fill="#252525" >Benefit group</text>
<text x="384.60" y="486.00" font-size="6.8" text-anchor="middle" fill="#252525" >N</text>
<text x="419.10" y="486.00" font-size="6.8" text-anchor="middle" fill="#252525" >Events</text>
<text x="474.80" y="478.00" font-size="6.8" text-anchor="middle" fill="#252525" >Median OS, months</text>
<text x="474.80" y="486.40" font-size="6.8" text-anchor="middle" fill="#252525" >(95% CI)</text>
<text x="290.70" y="499.50" font-size="6.8" text-anchor="start" fill="#252525" letter-spacing="0.05">Higher or intermediate</text>
<text x="384.60" y="499.50" font-size="6.8" text-anchor="middle" fill="#252525" >45</text>
<text x="419.10" y="499.50" font-size="6.8" text-anchor="middle" fill="#252525" >31</text>
<text x="474.80" y="499.50" font-size="6.8" text-anchor="middle" fill="#252525" >27.5 (17.6, 38.5)</text>
<text x="290.70" y="511.10" font-size="6.8" text-anchor="start" fill="#252525" letter-spacing="0.05">Higher</text>
<text x="384.60" y="511.10" font-size="6.8" text-anchor="middle" fill="#252525" >32</text>
<text x="419.10" y="511.10" font-size="6.8" text-anchor="middle" fill="#252525" >20</text>
<text x="474.80" y="511.10" font-size="6.8" text-anchor="middle" fill="#252525" >36.9 (20.5, 41.2)</text>
<text x="290.70" y="522.60" font-size="6.8" text-anchor="start" fill="#252525" letter-spacing="0.05">Intermediate</text>
<text x="384.60" y="522.60" font-size="6.8" text-anchor="middle" fill="#252525" >13</text>
<text x="419.10" y="522.60" font-size="6.8" text-anchor="middle" fill="#252525" >11</text>
<text x="474.80" y="522.60" font-size="6.8" text-anchor="middle" fill="#252525" >12.2 (2.4, 26.5)</text>
<rect x="0.5" y="0.5" width="519" height="532" fill="none" stroke="#444" stroke-width="1"/>
</svg></body></html>
